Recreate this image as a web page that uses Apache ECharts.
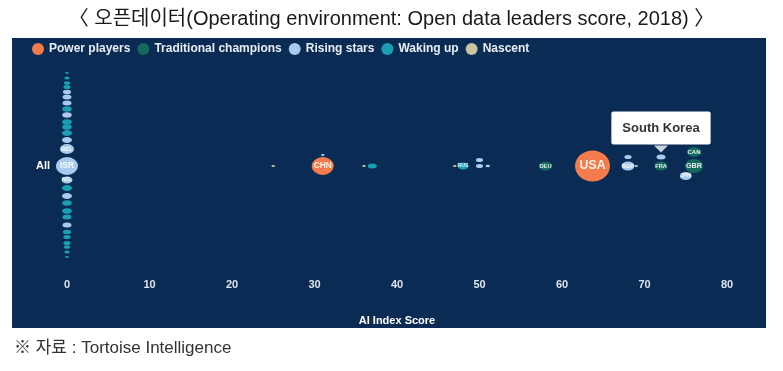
<!DOCTYPE html>
<html>
<head>
<meta charset="utf-8">
<script src="https://cdn.jsdelivr.net/npm/echarts@6/dist/echarts.min.js"></script>
<style>
html,body{margin:0;padding:0;background:#fff;}
#chart{width:783px;height:371px;}
</style>
</head>
<body>
<div id="chart"></div>
<script>
// ---- Data ----
const groupNames = ['Power players', 'Traditional champions', 'Rising stars', 'Waking up', 'Nascent'];
const groupColors = ['#f47c4c', '#14695c', '#a9caec', '#1aa0b2', '#cbc3a0'];

// country codes
const codes = [
  'MLT','LUX','ISL','CYP','SVN','LTU','LVA','SVK','HUN','CZE','POL','PRT','GRC','BEL','ISR',
  'NZL','EST','AUT','NOR','DNK','IRL','ESP','ITA','SWE','FIN','CHE','NLD','ARE',
  'NGA','CHN','HKG','EGY','IND','KEN','RUS','TWN','BRA','SAU','DEU','USA',
  'SGP2','SGP','MEX','KOR','FRA','CAN','GBR','JPN'
];
// AI Index score (x)
const scores = [
  0,0,0,0,0,0,0,0,0,0,0,0,0,0,0,
  0,0,0,0,0,0,0,0,0,0,0,0,0,
  25,31,31,36,37,47,48,50,50,51,58,63.7,
  68,68,69,72,72,76,76,75
];
// beeswarm stack offset within the "All" row
const offsets = [
  93,88,83,79,74,69,63,57,51,44,39,33,26,17,0,
  -14,-22,-30,-37,-45,-51,-59,-66,-71,-77,-81,-86,-91,
  0,0,11,0,0,0,0,6,0,0,0,0,
  9,0,0,9,0,14,0,-10
];
// bubble magnitude
const weights = [
  2,3,3.5,4,4.5,5,5,5.5,5.5,5.5,5.5,6,6,10,18,
  7,6,6,5.5,5.5,5,5,4.5,4,4,3.5,3,2,
  2,18,2,2,5,2,7,4,4,2.5,9,31,
  4,9,2,5,9,10,14,8
];
// group index into groupNames
const groups = [
  3,3,3,3,2,2,2,3,2,3,3,3,2,2,2,
  2,3,2,3,3,3,2,3,3,3,3,3,3,
  4,0,2,4,3,4,3,2,2,2,1,0,
  2,2,2,2,1,1,1,2
];
const highlightName = 'KOR';
const highlightLabel = 'South Korea';
const rowLabel = 'All';
const xTicks = {min: 0, max: 80, interval: 10};

// ---- Build series ----
const labelFont = "'Liberation Sans', Arial, sans-serif";
function makeItem(i) {
  const w = weights[i];
  const item = {
    value: [scores[i], offsets[i], w, codes[i]],
    label: {
      show: w >= 7,
      formatter: codes[i].replace(/\d+$/, ''),
      fontSize: 3 + w * 0.3,
      color: 'rgba(255,255,255,0.9)',
      fontWeight: 'bold',
      fontFamily: labelFont
    }
  };
  if (codes[i] === highlightName) {
    item.label = {
      show: true,
      position: 'top',
      distance: 10,
      formatter: highlightLabel,
      backgroundColor: '#ffffff',
      color: '#333333',
      fontSize: 13,
      fontWeight: 'bold',
      fontFamily: labelFont,
      padding: [10, 11, 10, 11],
      borderRadius: 2
    };
  }
  return item;
}

const series = groupNames.map((g, gi) => ({
  name: g,
  type: 'scatter',
  itemStyle: {color: groupColors[gi], opacity: 1},
  symbol: 'circle',
  symbolSize: v => [v[2] + Math.min(4, v[2] * 0.8), v[2]],
  emphasis: {disabled: true},
  data: codes.map((c, i) => i).filter(i => groups[i] === gi).map(makeItem),
  z: 3
}));

// pointer arrow under the highlight label
const hi = codes.indexOf(highlightName);
series.push({
  name: 'pointer',
  type: 'scatter',
  symbol: 'triangle',
  symbolRotate: 180,
  symbolSize: [14, 7],
  symbolOffset: [0, -8],
  itemStyle: {color: '#ffffff'},
  silent: true,
  z: 5,
  data: [[scores[hi], offsets[hi]]]
});

const chart = echarts.init(document.getElementById('chart'), null, {renderer: 'canvas'});
chart.setOption({
  backgroundColor: '#ffffff',
  animation: false,
  title: {
    text: '〈 오픈데이터(Operating environment: Open data leaders score, 2018) 〉',
    left: 'center',
    top: 4,
    textStyle: {
      fontFamily: "'Liberation Sans', 'Noto Sans CJK KR', sans-serif",
      fontSize: 20,
      fontWeight: 'normal',
      color: '#1a1a1a'
    }
  },
  graphic: [
    {
      type: 'rect',
      left: 12, top: 38, z: -10,
      shape: {width: 754, height: 290},
      style: {fill: '#0a2b53'}
    },
    {
      type: 'text',
      left: 14, top: 340,
      style: {
        text: '※ 자료 : Tortoise Intelligence',
        fill: '#333333',
        fontSize: 17,
        fontFamily: "'Liberation Sans', 'Noto Sans CJK KR', sans-serif"
      }
    }
  ],
  legend: {
    data: groupNames,
    left: 32,
    top: 43,
    padding: 0,
    icon: 'circle',
    itemWidth: 12,
    itemHeight: 12,
    itemGap: 7,
    selectedMode: false,
    textStyle: {color: '#e9eef4', fontWeight: 'bold', fontSize: 12, fontFamily: labelFont}
  },
  grid: {left: 67, right: 56, top: 66, bottom: 105},
  xAxis: {
    type: 'value',
    min: xTicks.min, max: xTicks.max, interval: xTicks.interval,
    axisLine: {show: false}, axisTick: {show: false}, splitLine: {show: false},
    axisLabel: {color: '#dde4ec', fontWeight: 'bold', fontSize: 11, margin: 13, fontFamily: labelFont},
    name: 'AI Index Score',
    nameLocation: 'middle',
    nameGap: 49,
    nameTextStyle: {color: '#ffffff', fontWeight: 'bold', fontSize: 11, fontFamily: labelFont}
  },
  yAxis: {
    type: 'value',
    min: -100, max: 100, interval: 100,
    axisLine: {show: false}, axisTick: {show: false}, splitLine: {show: false},
    axisLabel: {
      formatter: v => (v === 0 ? rowLabel : ''),
      color: '#ffffff', fontWeight: 'bold', fontSize: 11, margin: 17, fontFamily: labelFont
    }
  },
  series: series
});
</script>
</body>
</html>
